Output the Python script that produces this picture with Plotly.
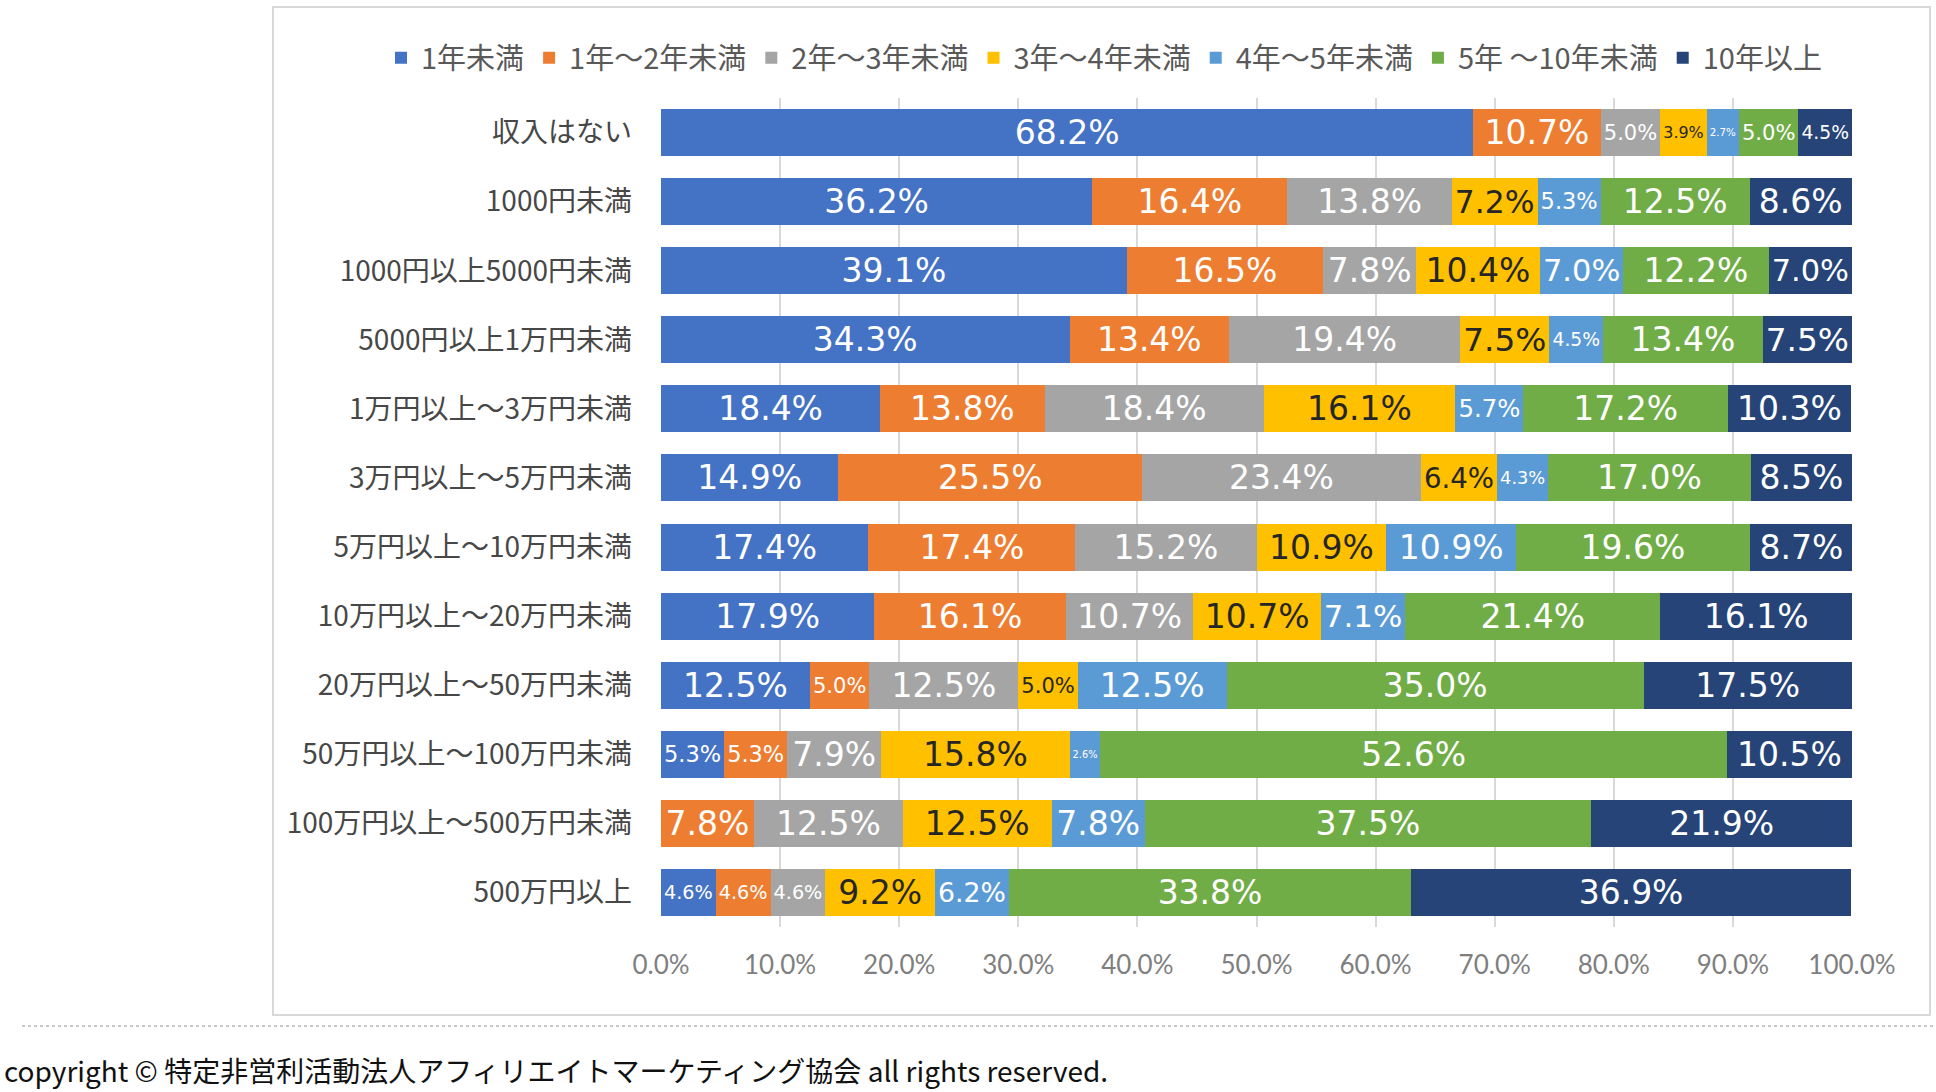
import plotly.graph_objects as go

categories = [
    "収入はない",
    "1000円未満",
    "1000円以上5000円未満",
    "5000円以上1万円未満",
    "1万円以上～3万円未満",
    "3万円以上～5万円未満",
    "5万円以上～10万円未満",
    "10万円以上～20万円未満",
    "20万円以上～50万円未満",
    "50万円以上～100万円未満",
    "100万円以上～500万円未満",
    "500万円以上",
]

series_names = ["1年未満", "1年～2年未満", "2年～3年未満", "3年～4年未満",
                "4年～5年未満", "5年 ～10年未満", "10年以上"]

y_lt1 = [68.2, 36.2, 39.1, 34.3, 18.4, 14.9, 17.4, 17.9, 12.5, 5.3, None, 4.6]
y_1_2 = [10.7, 16.4, 16.5, 13.4, 13.8, 25.5, 17.4, 16.1, 5.0, 5.3, 7.8, 4.6]
y_2_3 = [5.0, 13.8, 7.8, 19.4, 18.4, 23.4, 15.2, 10.7, 12.5, 7.9, 12.5, 4.6]
y_3_4 = [3.9, 7.2, 10.4, 7.5, 16.1, 6.4, 10.9, 10.7, 5.0, 15.8, 12.5, 9.2]
y_4_5 = [2.7, 5.3, 7.0, 4.5, 5.7, 4.3, 10.9, 7.1, 12.5, 2.6, 7.8, 6.2]
y_5_10 = [5.0, 12.5, 12.2, 13.4, 17.2, 17.0, 19.6, 21.4, 35.0, 52.6, 37.5, 33.8]
y_10p = [4.5, 8.6, 7.0, 7.5, 10.3, 8.5, 8.7, 16.1, 17.5, 10.5, 21.9, 36.9]

series_values = [y_lt1, y_1_2, y_2_3, y_3_4, y_4_5, y_5_10, y_10p]
colors = ["#4472C4", "#ED7D31", "#A5A5A5", "#FFC000", "#5B9BD5", "#70AD47", "#264478"]
label_colors = ["#FFFFFF", "#FFFFFF", "#FFFFFF", "#262626", "#FFFFFF", "#FFFFFF", "#FFFFFF"]

x_tickvals = [0, 10, 20, 30, 40, 50, 60, 70, 80, 90, 100]
x_ticktext = ["0.0%", "10.0%", "20.0%", "30.0%", "40.0%", "50.0%",
              "60.0%", "70.0%", "80.0%", "90.0%", "100.0%"]

copyright_text = "copyright © 特定非営利活動法人アフィリエイトマーケティング協会 all rights reserved."

fig = go.Figure()
for name, vals, col, lcol in zip(series_names, series_values, colors, label_colors):
    fig.add_trace(go.Bar(
        y=categories,
        x=vals,
        name=name,
        orientation="h",
        marker=dict(color=col, line=dict(width=0)),
        text=[("" if v is None else f"{v:.1f}%") for v in vals],
        textposition="inside",
        insidetextanchor="middle",
        textangle=0,
        textfont=dict(family="DejaVu Sans, sans-serif", size=33, color=lcol),
        hoverinfo="skip",
    ))

# pixel -> paper helpers (plot area: x 661..1852, y 98..927)
L, R, T, B = 661, 1852, 98, 927
def px(x):
    return (x - L) / (R - L)
def py(y):
    return (B - y) / (B - T)

fig.update_layout(
    width=1936,
    height=1092,
    barmode="stack",
    bargap=0.32,
    paper_bgcolor="white",
    plot_bgcolor="white",
    margin=dict(l=L, r=1936 - R, t=T, b=1092 - B, pad=0),
    showlegend=True,
    legend=dict(
        orientation="h",
        x=px(381), xanchor="left",
        y=py(58), yanchor="middle",
        font=dict(family="Noto Sans CJK JP, sans-serif", size=29, color="#595959"),
        traceorder="normal",
        itemclick=False,
        bgcolor="rgba(0,0,0,0)",
    ),
    xaxis=dict(
        range=[0, 100],
        tickvals=x_tickvals,
        ticktext=x_ticktext,
        showgrid=True,
        gridcolor="#D9D9D9",
        gridwidth=2,
        zeroline=False,
        showline=False,
        ticks="",
        ticklabelstandoff=20,
        tickfont=dict(family="Lato, Liberation Sans, sans-serif", size=26, color="#7F7F7F"),
        fixedrange=True,
    ),
    yaxis=dict(
        autorange="reversed",
        showgrid=False,
        zeroline=False,
        showline=False,
        ticks="",
        ticklabelstandoff=28,
        tickfont=dict(family="Noto Sans CJK JP, sans-serif", size=28, color="#474747"),
        fixedrange=True,
    ),
    shapes=[
        dict(type="rect", xref="paper", yref="paper",
             x0=px(273), x1=px(1930), y0=py(1015), y1=py(7),
             line=dict(color="#D9D9D9", width=2), fillcolor="rgba(0,0,0,0)", layer="below"),
        dict(type="line", xref="paper", yref="paper",
             x0=px(22), x1=px(1936), y0=py(1026), y1=py(1026),
             line=dict(color="#C8C8C8", width=2, dash="3px,3px")),
    ],
    annotations=[
        dict(text=copyright_text, xref="paper", yref="paper",
             x=px(2), y=py(1070), xanchor="left", yanchor="middle",
             showarrow=False,
             font=dict(family="Noto Sans CJK JP, sans-serif", size=28, color="#111111")),
    ],
)

fig.write_html(
    "out.html",
    config={"displayModeBar": False},
    post_script="document.body.style.margin='0';document.body.style.overflow='hidden';",
)
